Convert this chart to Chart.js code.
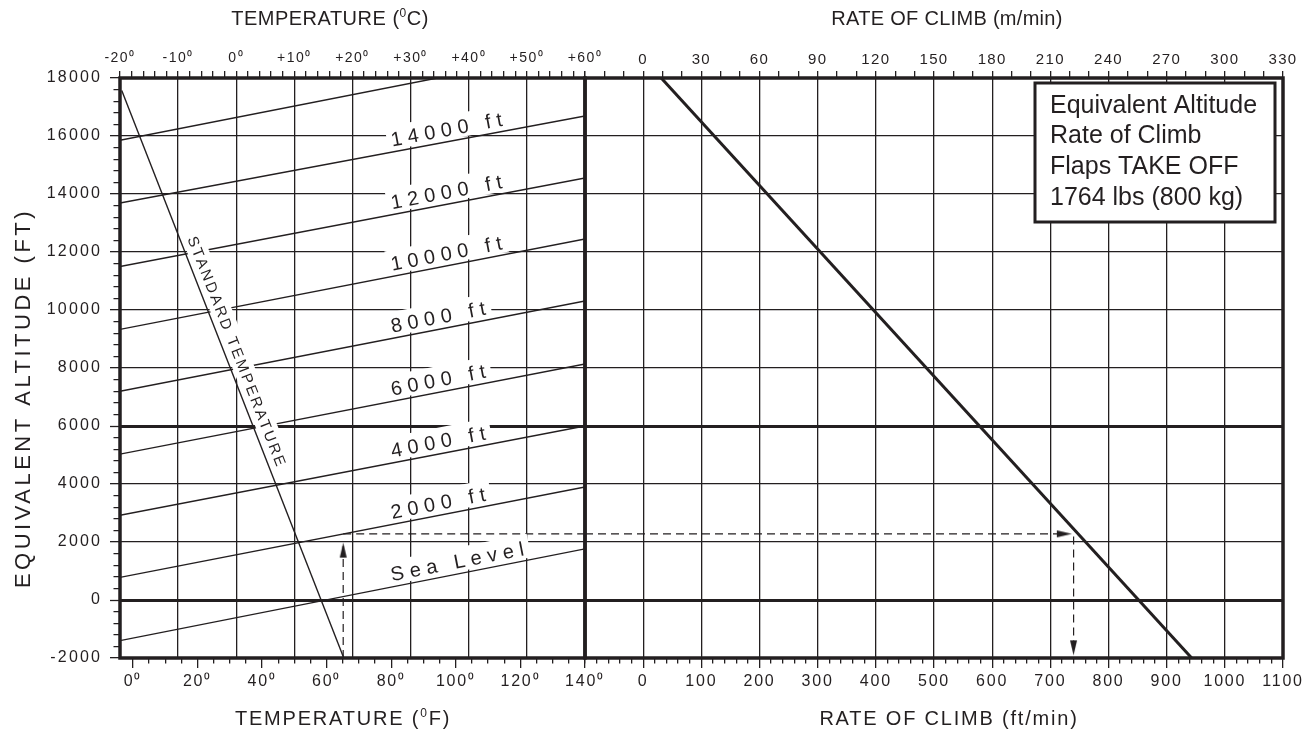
<!DOCTYPE html>
<html lang="en">
<head>
<meta charset="utf-8">
<title>Equivalent Altitude – Rate of Climb</title>
<script src="https://cdn.jsdelivr.net/npm/chart.js"></script>
<style>
  html, body { margin:0; padding:0; background:#fff; }
  body { width:1311px; height:731px; position:relative; overflow:hidden; }
  canvas { position:absolute; top:0; }
  #left { left:0; }
  #right { left:570px; }
</style>
</head>
<body>
<canvas id="left" width="640" height="731"></canvas>
<canvas id="right" width="741" height="731"></canvas>
<script>
// ================= DATA =================
const tempCTicks = [-20, -10, 0, 10, 20, 30, 40, 50, 60];
const tempFTicks = [0, 20, 40, 60, 80, 100, 120, 140];
const altTicks   = [-2000, 0, 2000, 4000, 6000, 8000, 10000, 12000, 14000, 16000, 18000];
const rocMTicks  = [0, 30, 60, 90, 120, 150, 180, 210, 240, 270, 300, 330];
const rocFtTicks = [0, 100, 200, 300, 400, 500, 600, 700, 800, 900, 1000, 1100];

// pressure-altitude lines (temperature °C -> equivalent altitude ft)
const pressureAltNames = ['Sea Level', '2000 ft', '4000 ft', '6000 ft', '8000 ft', '10000 ft', '12000 ft', '14000 ft', ''];
const lineStartTempC = [-20, -20, -20, -20, -20, -20, -20, -20, -20];
const lineStartAlt   = [-1400, 780, 2920, 5030, 7200, 9330, 11500, 13690, 15855];
const lineEndTempC   = [60, 60, 60, 60, 60, 60, 60, 60, 34.6];
const lineEndAlt     = [1765, 3895, 6000, 8140, 10310, 12450, 14550, 16690, 18000];
const curveLabelTempC = 27;

// standard temperature line
const stdTempC   = [-19.7, 18.5];
const stdTempAlt = [17570, -2000];
const stdTempName = 'STANDARD TEMPERATURE';
const stdLabelAlt = 12370;

// rate of climb line (ft/min -> equivalent altitude ft)
const climbRocFt = [31, 943];
const climbAlt   = [18000, -2000];

// worked example (dashed arrows)
const exUpTempC = [18.4, 18.4];      const exUpAlt = [-2000, 1850];
const exArrowUp = [{x: 18.4, y: 1980}];
const exAcrossTempC = [18.4, 60];    const exAcrossAlt = [2280, 2280];
const exAcrossRocFt = [-100, 725];   const exAcrossRocAlt = [2280, 2280];
const exArrowRight = [{x: 737, y: 2280}];
const exDownRocFt = [740, 740];      const exDownAlt = [2190, -1800];
const exArrowDown = [{x: 740, y: -1910}];

const legendLines = ['Equivalent Altitude', 'Rate of Climb', 'Flaps TAKE OFF', '1764 lbs (800 kg)'];
const titleTempC = 'TEMPERATURE (⁰C)';
const titleTempF = 'TEMPERATURE (⁰F)';
const titleAlt   = 'EQUIVALENT ALTITUDE (FT)';
const titleRocM  = 'RATE OF CLIMB (m/min)';
const titleRocFt = 'RATE OF CLIMB (ft/min)';

// ================= HELPERS =================
const INK = '#231f20';
const FONT = "'Liberation Sans', Arial, Helvetica, sans-serif";
Chart.defaults.font.family = FONT;
Chart.defaults.color = INK;

function pts(xs, ys) { return xs.map((x, i) => ({x: x, y: ys[i]})); }
function near(arr, v) { return !!arr && arr.some(a => Math.abs(a - v) < 1e-6); }
function steps(min, max, step) {
  const out = [];
  const start = Math.ceil(min / step - 1e-9) * step;
  for (let v = start; v <= max + 1e-9; v += step) out.push(Math.round(v * 1e6) / 1e6);
  return out;
}
const tv = x => (x && x.tick) ? x.tick.value : NaN;

function axis(c) {
  const horiz = c.position === 'top' || c.position === 'bottom';
  const outerFirst = c.position === 'top' || c.position === 'left';
  const tl = c.tickLength || 0;
  return {
    type: 'linear', axis: horiz ? 'x' : 'y', position: c.position, min: c.min, max: c.max,
    afterBuildTicks: s => { s.ticks = steps(c.min, c.max, c.step).map(v => ({value: v})); },
    afterFit: s => {
      if (horiz) s.height = c.size; else s.width = c.size;
      s.paddingLeft = s.paddingRight = s.paddingTop = s.paddingBottom = 0;
    },
    ticks: {
      display: !!c.fmt, autoSkip: false, maxRotation: 0, minRotation: 0,
      padding: c.padding || 0, color: INK, font: {size: c.fontSize || 14},
      callback: v => (c.fmt && near(c.majors, v)) ? c.fmt(v) : ''
    },
    grid: {
      display: true, drawOnChartArea: !!c.grid, drawTicks: tl > 0, tickLength: tl,
      color: x => (c.grid && near(c.grid, tv(x))) ? INK : 'rgba(0,0,0,0)',
      lineWidth: x => near(c.thick, tv(x)) ? 3 : 1.3,
      tickColor: INK, tickWidth: 1.3,
      tickBorderDash: x => (!c.minorLen || near(c.majors, tv(x))) ? [] :
        (outerFirst ? [0.001, tl - c.minorLen, c.minorLen, 400] : [c.minorLen, 400])
    },
    border: {display: false}
  };
}

const tickSpacing = {alt: '2.2px', tC: '1.5px', tF: '1.8px', rM: '1.3px', rF: '1.8px'};
const spacingPlugin = {
  id: 'tickSpacing',
  afterLayout(chart) {
    Object.keys(chart.scales).forEach(id => {
      const s = chart.scales[id];
      if (s.__spaced || !tickSpacing[id]) return;
      const orig = s.drawLabels;
      s.drawLabels = function (area) {
        const c = this.ctx; c.save(); c.letterSpacing = tickSpacing[id];
        orig.call(this, area); c.restore();
      };
      s.__spaced = true;
    });
  }
};

function richText(ctx, text, cx, cy, size, spacing) {
  const pieces = text.split('⁰');
  const big = size + 'px ' + FONT, small = Math.round(size * 0.62) + 'px ' + FONT;
  ctx.save();
  ctx.letterSpacing = spacing + 'px';
  ctx.textAlign = 'left'; ctx.textBaseline = 'alphabetic'; ctx.fillStyle = INK;
  const segs = [];
  pieces.forEach((p, i) => {
    segs.push({t: p, f: big, dy: 0});
    if (i < pieces.length - 1) segs.push({t: '0', f: small, dy: -size * 0.42});
  });
  let total = 0;
  segs.forEach(s => { ctx.font = s.f; s.w = ctx.measureText(s.t).width; total += s.w; });
  let x = cx - total / 2; const base = cy + size * 0.36;
  segs.forEach(s => { ctx.font = s.f; ctx.fillText(s.t, x, base + s.dy); x += s.w; });
  ctx.restore();
}

function labelOnLine(ctx, text, x1, y1, x2, y2, t, opt) {
  const ang = Math.atan2(y2 - y1, x2 - x1);
  const px = x1 + (x2 - x1) * t, py = y1 + (y2 - y1) * t;
  ctx.save();
  ctx.translate(px, py); ctx.rotate(ang);
  ctx.font = opt.size + 'px ' + FONT;
  ctx.letterSpacing = opt.spacing + 'px';
  const w = ctx.measureText(text).width;
  ctx.fillStyle = '#fff';
  ctx.fillRect(-4, -opt.boxTop, w + 4, opt.boxTop - opt.boxBottom);
  ctx.fillStyle = INK; ctx.textAlign = 'left'; ctx.textBaseline = 'alphabetic';
  ctx.fillText(text, 0, -opt.base);
  ctx.restore();
}

function arrowImage() {
  const c = document.createElement('canvas');
  c.width = 9; c.height = 32;
  const g = c.getContext('2d');
  g.fillStyle = INK;
  g.beginPath(); g.moveTo(4.5, 16); g.lineTo(8, 31); g.lineTo(1, 31); g.closePath(); g.fill();
  return c;
}
const arrowImg = arrowImage();

function strokeArea(chart) {
  const a = chart.chartArea, ctx = chart.ctx;
  ctx.save(); ctx.lineWidth = 3.5; ctx.strokeStyle = INK;
  ctx.strokeRect(a.left, a.top, a.right - a.left, a.bottom - a.top);
  ctx.restore();
}

// ================= LEFT PANEL =================
const decorA = {
  id: 'decorA',
  afterDatasetsDraw(chart) {
    const ctx = chart.ctx, xs = chart.scales.tC, ys = chart.scales.alt;
    pressureAltNames.forEach((name, i) => {
      if (!name) return;
      const x1 = xs.getPixelForValue(lineStartTempC[i]), y1 = ys.getPixelForValue(lineStartAlt[i]);
      const x2 = xs.getPixelForValue(lineEndTempC[i]), y2 = ys.getPixelForValue(lineEndAlt[i]);
      const t = (curveLabelTempC - lineStartTempC[i]) / (lineEndTempC[i] - lineStartTempC[i]);
      labelOnLine(ctx, name, x1, y1, x2, y2, t, {size: 20, spacing: 5.8, base: 5.5, boxTop: 26, boxBottom: 2.2});
    });
    const sx1 = xs.getPixelForValue(stdTempC[0]), sy1 = ys.getPixelForValue(stdTempAlt[0]);
    const sx2 = xs.getPixelForValue(stdTempC[1]), sy2 = ys.getPixelForValue(stdTempAlt[1]);
    const st = (stdTempAlt[0] - stdLabelAlt) / (stdTempAlt[0] - stdTempAlt[1]);
    labelOnLine(ctx, stdTempName, sx1, sy1, sx2, sy2, st, {size: 15, spacing: 2.5, base: 7, boxTop: 23, boxBottom: 2});
    strokeArea(chart);
  },
  afterDraw(chart) {
    const ctx = chart.ctx;
    richText(ctx, titleTempC, 330, 18, 20, 0.5);
    richText(ctx, titleTempF, 343, 718, 20, 1.8);
    ctx.save(); ctx.translate(22, 398); ctx.rotate(-Math.PI / 2);
    richText(ctx, titleAlt, 0, 0, 22, 3.5);
    ctx.restore();
  }
};

const lineDs = (data, extra) => Object.assign({
  data: data, xAxisID: 'tC', yAxisID: 'alt', showLine: true,
  borderColor: INK, borderWidth: 1.4, pointRadius: 0, fill: false
}, extra || {});

const leftDatasets = pressureAltNames.map((n, i) =>
  lineDs(pts([lineStartTempC[i], lineEndTempC[i]], [lineStartAlt[i], lineEndAlt[i]])));
leftDatasets.push(lineDs(pts(stdTempC, stdTempAlt)));
leftDatasets.push(lineDs(pts(exUpTempC, exUpAlt), {borderWidth: 1.2, borderDash: [8, 5]}));
leftDatasets.push(lineDs(pts(exAcrossTempC, exAcrossAlt), {borderWidth: 1.2, borderDash: [8, 5]}));
leftDatasets.push(lineDs(exArrowUp, {showLine: false, pointStyle: arrowImg, pointRotation: 0, pointRadius: 5}));

new Chart(document.getElementById('left'), {
  type: 'scatter',
  data: {datasets: leftDatasets},
  options: {
    responsive: false, animation: false, events: [],
    layout: {padding: {left: 0, right: 55, top: 0, bottom: 0}},
    plugins: {legend: {display: false}, tooltip: {enabled: false}},
    scales: {
      alt: axis({position: 'left', min: -2000, max: 18000, step: 400, majors: altTicks, grid: altTicks,
                 thick: [0, 6000], fmt: v => String(v), fontSize: 16, padding: 7.8, tickLength: 10, minorLen: 6.5, size: 120}),
      tC: axis({position: 'top', min: -20, max: 60, step: 2, majors: tempCTicks, grid: tempCTicks,
                fmt: v => (v > 0 ? '+' : '') + v + '⁰', fontSize: 14, padding: 4.6, tickLength: 7, size: 78}),
      tF: axis({position: 'bottom', min: -4, max: 140, step: 5, majors: tempFTicks,
                fmt: v => v + '⁰', fontSize: 16, padding: 4.4, tickLength: 10, minorLen: 5.5, size: 73})
    }
  },
  plugins: [spacingPlugin, decorA]
});

// ================= RIGHT PANEL =================
const decorB = {
  id: 'decorB',
  afterDatasetsDraw(chart) {
    strokeArea(chart);
    const ctx = chart.ctx;
    ctx.save();
    ctx.fillStyle = '#fff'; ctx.fillRect(465, 83, 240, 139);
    ctx.lineWidth = 3; ctx.strokeStyle = INK; ctx.strokeRect(465, 83, 240, 139);
    ctx.fillStyle = INK; ctx.font = '25px ' + FONT; ctx.textAlign = 'left'; ctx.textBaseline = 'alphabetic';
    legendLines.forEach((l, i) => ctx.fillText(l, 480, 112.5 + i * 30.7));
    ctx.restore();
  },
  afterDraw(chart) {
    const ctx = chart.ctx;
    richText(ctx, titleRocM, 377, 18, 20, 0.3);
    richText(ctx, titleRocFt, 379, 718, 20, 1.8);
  }
};

const rDs = (data, extra) => Object.assign({
  data: data, xAxisID: 'rF', yAxisID: 'altR', showLine: true,
  borderColor: INK, borderWidth: 1.2, pointRadius: 0, fill: false
}, extra || {});

new Chart(document.getElementById('right'), {
  type: 'scatter',
  data: {datasets: [
    rDs(pts(climbRocFt, climbAlt), {borderWidth: 3}),
    rDs(pts(exAcrossRocFt, exAcrossRocAlt), {borderDash: [8, 5]}),
    rDs(pts(exDownRocFt, exDownAlt), {borderDash: [8, 5]}),
    rDs(exArrowRight, {showLine: false, pointStyle: arrowImg, pointRotation: 90, pointRadius: 5}),
    rDs(exArrowDown, {showLine: false, pointStyle: arrowImg, pointRotation: 180, pointRadius: 5})
  ]},
  options: {
    responsive: false, animation: false, events: [],
    layout: {padding: {left: 15, right: 28, top: 0, bottom: 0}},
    plugins: {legend: {display: false}, tooltip: {enabled: false}},
    scales: {
      altR: axis({position: 'left', min: -2000, max: 18000, step: 2000, majors: altTicks, grid: altTicks,
                  thick: [0, 6000], size: 0}),
      rM: axis({position: 'top', min: -30, max: 330, step: 10, majors: rocMTicks, grid: rocMTicks,
                fmt: v => String(v), fontSize: 15, padding: 2, tickLength: 7, size: 78}),
      rF: axis({position: 'bottom', min: -100, max: 1100, step: 20, majors: rocFtTicks,
                fmt: v => String(v), fontSize: 16, padding: 4.4, tickLength: 10, minorLen: 5.5, size: 73})
    }
  },
  plugins: [spacingPlugin, decorB]
});
</script>
</body>
</html>
